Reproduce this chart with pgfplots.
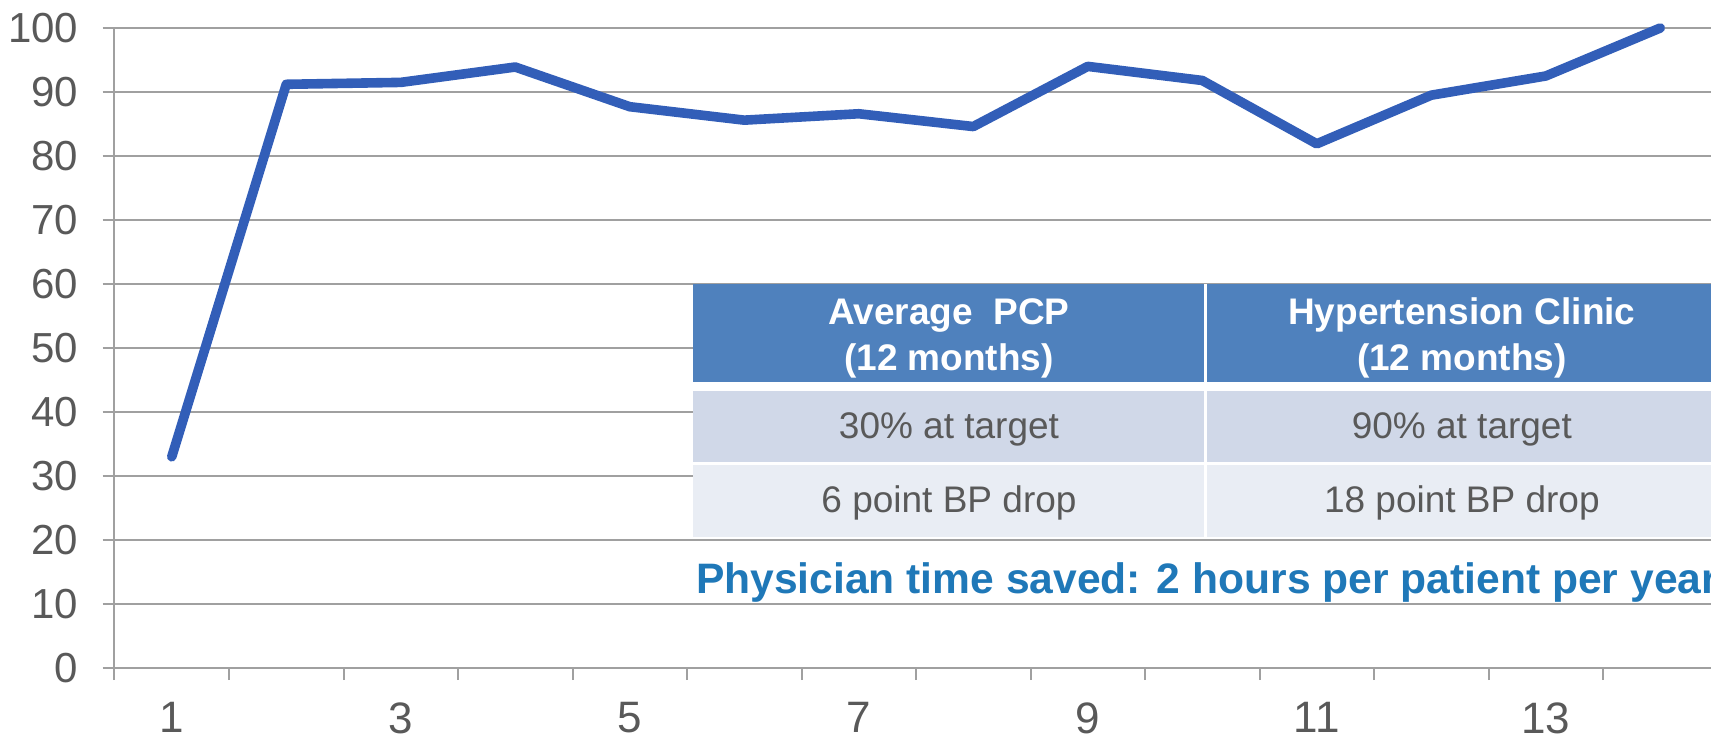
\documentclass[border=0pt]{standalone}
\usepackage{pgfplots}
\pgfplotsset{compat=1.18}
\usepackage{fontspec}
\setmainfont{Liberation Sans}
\definecolor{linec}{RGB}{50,94,184}
\definecolor{gridc}{RGB}{160,160,160}
\definecolor{tickc}{RGB}{89,89,89}
\definecolor{hdr}{RGB}{79,129,189}
\definecolor{rowa}{RGB}{208,216,232}
\definecolor{rowb}{RGB}{233,237,244}
\definecolor{bluetxt}{RGB}{31,120,184}
\begin{document}
\begin{tikzpicture}
\begin{axis}[
  scale only axis, width=801.5pt, height=320pt,
  xmin=0.5, xmax=14.5, ymin=0, ymax=100,
  clip=false,
  axis x line=bottom, axis y line=left,
  axis line style={-, draw=gridc, line width=1pt},
  xtick={1,3,5,7,9,11,13},
  minor xtick={0.5,1.5,...,14.5},
  ytick={0,10,...,100},
  tick align=outside,
  major tick length=6pt, minor tick length=6pt,
  major x tick style={draw=none},
  tick style={draw=gridc, line width=1pt},
  ymajorgrids=true,
  grid style={draw=gridc, line width=1pt},
  ticklabel style={font=\fontsize{22}{26}\selectfont, text=tickc, inner sep=0pt},
  /pgf/number format/assume math mode=true,
  yticklabel style={xshift=-12pt, font=\fontsize{21}{25}\selectfont},
  xticklabel style={yshift=-11pt},
]
\coordinate (bl) at (axis cs:-0.5,-10.47);
\coordinate (tr) at (axis cs:14.443,104.375);
% table
\fill[hdr] (axis cs:5.552,60) rectangle (axis cs:14.5,44.69);
\fill[rowa] (axis cs:5.552,43.33) rectangle (axis cs:14.5,32.0);
\fill[rowb] (axis cs:5.552,32.0) rectangle (axis cs:14.5,20.5);
\draw[white, line width=1.5pt] (axis cs:5.552,32.0) -- (axis cs:14.5,32.0);
\draw[white, line width=1.5pt] (axis cs:10.024,60) -- (axis cs:10.024,20.5);
\begin{scope}[every node/.style={inner sep=0pt, anchor=base, font=\fontsize{18.5}{22}\selectfont}]
\node[text=white, font=\bfseries\fontsize{18.5}{22}\selectfont] at (axis cs:7.788,53.6) {Average\ \ PCP};
\node[text=white, font=\bfseries\fontsize{18.5}{22}\selectfont] at (axis cs:7.788,46.56) {(12 months)};
\node[text=white, font=\bfseries\fontsize{18.5}{22}\selectfont] at (axis cs:12.267,53.6) {Hypertension Clinic};
\node[text=white, font=\bfseries\fontsize{18.5}{22}\selectfont] at (axis cs:12.267,46.56) {(12 months)};
\node[text=tickc] at (axis cs:7.788,35.89) {30\% at target};
\node[text=tickc] at (axis cs:12.267,35.89) {90\% at target};
\node[text=tickc] at (axis cs:7.788,24.27) {6 point BP drop};
\node[text=tickc] at (axis cs:12.267,24.27) {18 point BP drop};
\node[text=bluetxt, anchor=base west, font=\bfseries\fontsize{21.3}{25}\selectfont] at (axis cs:5.575,11.67) {Physician time saved: 2 hours per patient per year};
\end{scope}
\addplot[color=linec, line width=4.8pt, line join=round, line cap=round, mark=none]
  coordinates {
  (1,33.0) (2,91.2) (3,91.5) (4,93.9) (5,87.7) (6,85.6) (7,86.6)
  (8,84.6) (9,94.0) (10,91.8) (11,81.9) (12,89.5) (13,92.5) (14,100)
  };
\end{axis}
\pgfresetboundingbox
\path[use as bounding box] (bl) rectangle (tr);
\end{tikzpicture}
\end{document}
